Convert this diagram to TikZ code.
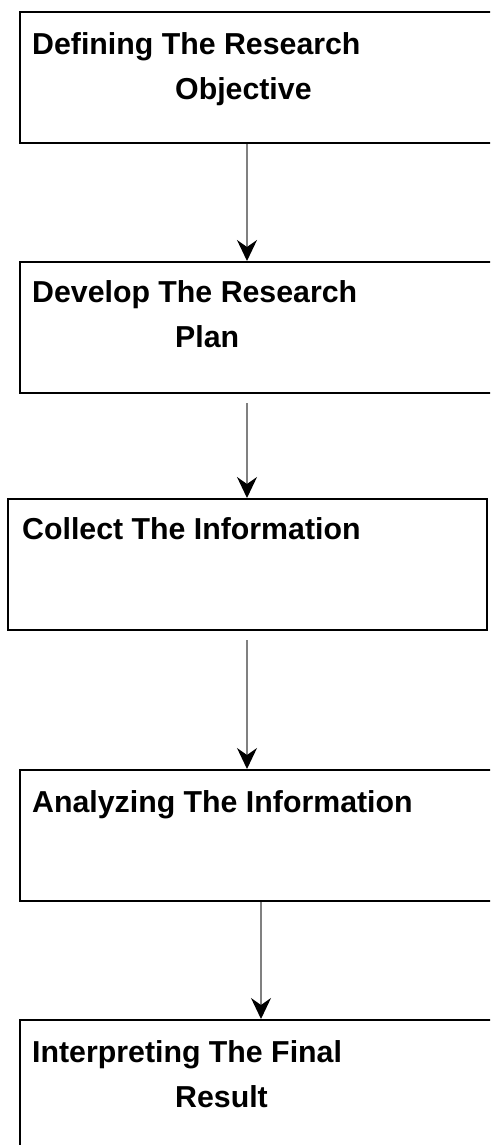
\documentclass[tikz,border=0pt]{standalone}
\usepackage{fontspec}
\setmainfont{Liberation Sans}
\usetikzlibrary{arrows.meta}

\begin{document}
\begin{tikzpicture}[x=1pt,y=-1pt,
    stage/.style={draw=black,line width=2pt,minimum width=479pt,minimum height=131pt,
      anchor=north west,inner sep=0pt},
    caption/.style={anchor=base west,inner sep=0pt,align=left,
      font=\fontsize{30.3}{45}\selectfont\bfseries},
    flow/.style={draw=black!50,line width=1.3pt,
      -{Stealth[length=21pt,width=20pt,inset=7pt,color=black]}}]
            \useasboundingbox (0,0) rectangle (490,1145);
            \clip (0,0) rectangle (490,1145);

            \node[stage] (objective) at (19,11) {};
            \node[stage] (plan) at (19,261) {};
            \node[stage] (collect) at (7,498) {};
            \node[stage] (analyze) at (19,769) {};
            \node[stage] (result) at (19,1019) {};

            % two-line captions sit on the baseline of their last line
            \node[caption] (objective-text) at (32,100) {Defining The Research\\\hspace*{143pt}Objective};
            \node[caption] (plan-text) at (32,347) {Develop The Research\\\hspace*{143pt}Plan};
            \node[caption] (collect-text) at (22,539) {Collect The Information};
            \node[caption] (analyze-text) at (32,812) {Analyzing The Information};
            \node[caption] (result-text) at (32,1107) {Interpreting The Final\\\hspace*{143pt}Result};

            \coordinate (axis) at (247,0);
            \coordinate (axis-right) at (261,0);
            \coordinate (plan-gap) at (247,403);
            \coordinate (collect-gap) at (247,640);

            \draw[flow] (objective.south -| axis) -- (plan.north -| axis);
            \draw[flow] (plan-gap) -- (collect.north -| axis);
            \draw[flow] (collect-gap) -- (analyze.north -| axis);
            \draw[flow] (analyze.south -| axis-right) -- (result.north -| axis-right);
          \end{tikzpicture}
\end{document}
